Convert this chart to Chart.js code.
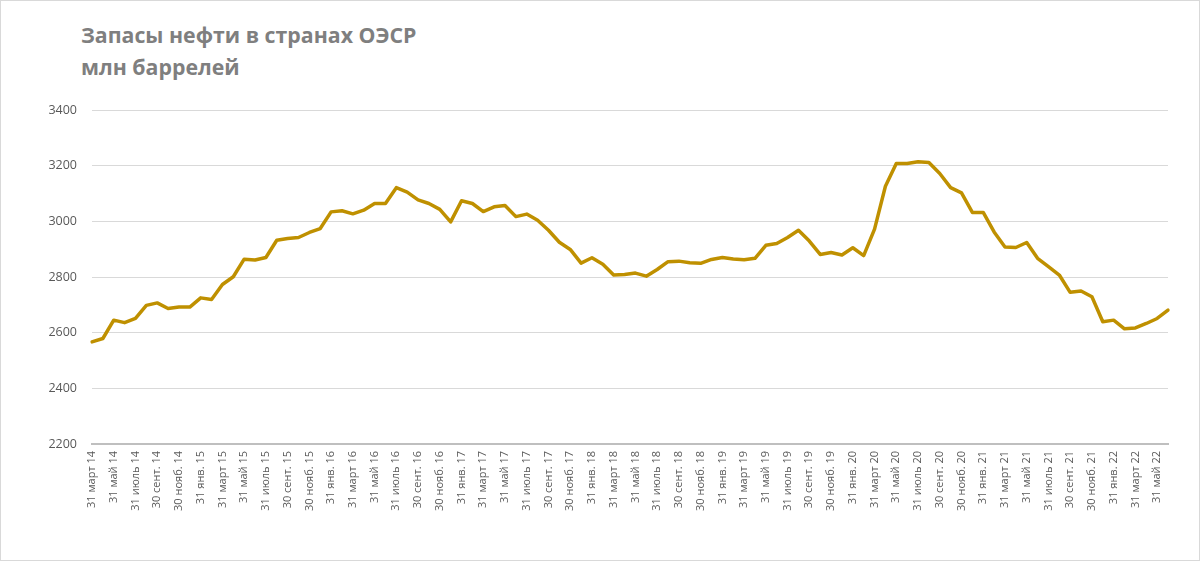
<!DOCTYPE html>
<html lang="ru">
<head>
<meta charset="utf-8">
<title>Запасы нефти в странах ОЭСР</title>
<script src="https://cdn.jsdelivr.net/npm/chart.js@4/dist/chart.umd.min.js"></script>
<style>
    html, body { margin: 0; padding: 0; background: #fff; }
    #wrap { position: relative; width: 1200px; height: 561px; overflow: hidden; }
    #frame { position: absolute; left: 0; top: 0; width: 1198px; height: 559px; border: 1px solid #d9d9d9; }
    #title {
        position: absolute; left: 81px; top: 19px;
        font: bold 21.3px/32px "Open Sans", sans-serif; color: #7f7f7f;
    }
    #c { position: absolute; left: 0; top: 0; }
</style>
</head>
<body>
<div id="wrap">
    <div id="frame"></div>
    <div id="title">Запасы нефти в странах ОЭСР<br>млн баррелей</div>
    <canvas id="c" width="1200" height="561"></canvas>
</div>
<script>
    // месяцы (конец месяца), ряд: март 2014 - июнь 2022
    const MONTHS = ["31 янв.", "28 февр.", "31 март", "30 апр.", "31 май", "30 июнь",
                    "31 июль", "31 авг.", "30 сент.", "31 окт.", "30 нояб.", "31 дек."];
    const START_YEAR = 14;
    const START_MONTH = 2; // март (0 = янв.)

    // запасы, млн баррелей
    const stocks = [
        2567, 2579, 2645, 2636, 2651, 2698, 2707, 2687, 2692, 2692,
        2725, 2719, 2773, 2801, 2864, 2861, 2870, 2932, 2938, 2942,
        2960, 2974, 3034, 3038, 3027, 3040, 3064, 3064, 3121, 3105,
        3077, 3064, 3043, 2998, 3074, 3064, 3035, 3052, 3057, 3017,
        3026, 3004, 2968, 2925, 2899, 2850, 2869, 2846, 2807, 2809,
        2814, 2803, 2827, 2855, 2857, 2851, 2849, 2863, 2870, 2865,
        2862, 2867, 2914, 2920, 2942, 2968, 2929, 2881, 2888, 2879,
        2905, 2877, 2972, 3126, 3208, 3208, 3214, 3211, 3172, 3121,
        3102, 3032, 3032, 2962, 2908, 2906, 2924, 2867, 2837, 2807,
        2745, 2750, 2729, 2639, 2645, 2614, 2617, 2633, 2651, 2681
    ];

    const Y_MIN = 2200, Y_MAX = 3400, Y_STEP = 200;

    const labels = [];
    for (let i = 0; i < stocks.length; i++) {
        const m = (START_MONTH + i) % 12;
        const y = START_YEAR + Math.floor((START_MONTH + i) / 12);
        labels.push(MONTHS[m] + " " + y);
    }

    const AXIS_TXT = "#595959";

    new Chart(document.getElementById("c"), {
        type: "line",
        data: {
            labels: labels,
            datasets: [{
                label: "Запасы нефти",
                data: stocks,
                borderColor: "#bf9000",
                borderWidth: 3.5,
                pointRadius: 0,
                tension: 0,
                borderJoinStyle: "round",
                borderCapStyle: "round"
            }]
        },
        options: {
            responsive: false,
            animation: false,
            devicePixelRatio: 1,
            layout: { padding: { left: 40, right: 32, top: 110, bottom: 37 } },
            plugins: { legend: { display: false }, tooltip: { enabled: false } },
            scales: {
                x: {
                    offset: false,
                    grid: { display: false, drawTicks: false },
                    border: { display: true, color: "#bfbfbf", width: 2 },
                    ticks: {
                        autoSkip: false,
                        minRotation: 90,
                        maxRotation: 90,
                        padding: 7,
                        color: AXIS_TXT,
                        font: { family: "Open Sans", size: 11 },
                        callback: function (v, i) {
                            // подписи через месяц, как в оригинале
                            return (i % 2 === 0) ? this.getLabelForValue(v) : "";
                        }
                    },
                    afterFit: (s) => { s.height = 80; }
                },
                y: {
                    min: Y_MIN,
                    max: Y_MAX,
                    grid: { color: "#d9d9d9", lineWidth: 1, drawTicks: false },
                    border: { display: false },
                    ticks: {
                        stepSize: Y_STEP,
                        padding: 15,
                        color: AXIS_TXT,
                        font: { family: "Open Sans", size: 12.5 },
                        callback: (v) => String(v)
                    },
                    afterFit: (s) => { s.width = 52; }
                }
            }
        }
    });
</script>
</body>
</html>
